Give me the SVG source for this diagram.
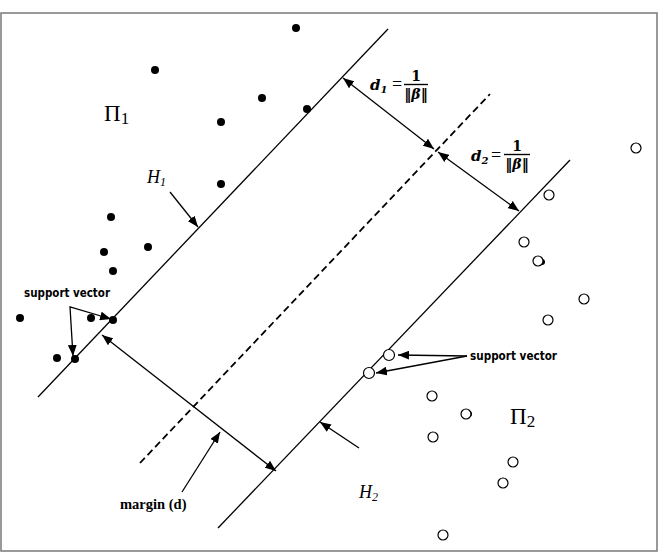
<svg xmlns="http://www.w3.org/2000/svg" width="660" height="553" viewBox="0 0 660 553">
  <style>
    .frame { fill: #fff; stroke: #808080; stroke-width: 1.6; }
    .plane { stroke: #000; stroke-width: 1.3; fill: none; }
    .mid { stroke: #000; stroke-width: 1.8; fill: none; stroke-dasharray: 7 4; }
    .arrow { stroke: #000; stroke-width: 1.3; fill: none; }
    .pos { fill: #000; }
    .neg { fill: #fff; stroke: #000; stroke-width: 1.2; }
    .math { font-family: "Liberation Serif", "DejaVu Serif", serif; fill: #000; }
    .heavy { font-family: "DejaVu Serif", "Liberation Serif", serif; fill: #000; font-weight: bold; }
    .bi { font-weight: bold; font-style: italic; }
    .b { font-weight: bold; }
    .it { font-style: italic; }
    .sv { font-family: "DejaVu Sans", "Liberation Sans", sans-serif; font-weight: bold; font-size: 11.5px; fill: #000; }
  </style>
  <defs>
    <marker id="head" viewBox="0 0 10 8" refX="10" refY="4" markerWidth="11" markerHeight="9" markerUnits="userSpaceOnUse" orient="auto-start-reverse">
      <path d="M0,0 L10,4 L0,8 Z" fill="#000"/>
    </marker>
  </defs>

  <rect class="frame" x="1" y="13" width="656" height="538"/>

  <!-- hyperplanes -->
  <g id="planes">
    <line id="H1-line" class="plane" x1="38" y1="397" x2="388" y2="29"/>
    <line id="mid-line" class="mid" x1="140" y1="463" x2="490" y2="94"/>
    <line id="H2-line" class="plane" x1="218" y1="528" x2="570" y2="160"/>
  </g>

  <!-- class 1 points -->
  <g id="class1">
    <circle class="pos" cx="296" cy="28" r="4"/>
    <circle class="pos" cx="155" cy="70" r="4"/>
    <circle class="pos" cx="262" cy="98" r="4"/>
    <circle class="pos" cx="307" cy="109" r="4"/>
    <circle class="pos" cx="221" cy="122" r="4"/>
    <circle class="pos" cx="221" cy="184" r="4"/>
    <circle class="pos" cx="111" cy="217" r="4"/>
    <circle class="pos" cx="148" cy="247" r="4"/>
    <circle class="pos" cx="104" cy="252" r="4"/>
    <circle class="pos" cx="113" cy="271" r="4"/>
    <circle class="pos" cx="20" cy="318" r="4"/>
    <circle class="pos" cx="91" cy="318" r="4"/>
    <circle class="pos" cx="57" cy="358" r="4"/>
    <circle class="pos" cx="113" cy="320" r="4"/>
    <circle class="pos" cx="75" cy="359" r="4"/>
  </g>

  <!-- class 2 points -->
  <g id="class2">
    <circle class="neg" cx="636" cy="148" r="5"/>
    <circle class="neg" cx="549" cy="195" r="5"/>
    <circle class="neg" cx="524" cy="242" r="5"/>
    <circle class="pos" cx="542" cy="262" r="3"/>
    <circle class="neg" cx="538" cy="261" r="5"/>
    <circle class="neg" cx="584" cy="299" r="5"/>
    <circle class="neg" cx="548" cy="320" r="5"/>
    <circle class="neg" cx="389" cy="355" r="5.5"/>
    <circle class="neg" cx="369" cy="373" r="5.5"/>
    <circle class="neg" cx="432" cy="396" r="5"/>
    <circle class="pos" cx="469" cy="414" r="3"/>
    <circle class="neg" cx="466" cy="414" r="5"/>
    <circle class="neg" cx="433" cy="437" r="5"/>
    <circle class="neg" cx="513" cy="462" r="5"/>
    <circle class="neg" cx="503" cy="483" r="5"/>
    <circle class="neg" cx="443" cy="535" r="5"/>
  </g>

  <!-- connectors -->
  <g id="connectors">
    <line class="arrow" x1="343" y1="78" x2="434" y2="149" marker-start="url(#head)" marker-end="url(#head)"/>
    <line class="arrow" x1="438" y1="152" x2="519" y2="211" marker-start="url(#head)" marker-end="url(#head)"/>
    <line class="arrow" x1="102" y1="335" x2="276" y2="471" marker-start="url(#head)" marker-end="url(#head)"/>
    <line class="arrow" x1="182" y1="492" x2="220" y2="432" marker-end="url(#head)"/>
    <line class="arrow" x1="170" y1="192" x2="198" y2="227" marker-end="url(#head)"/>
    <line class="arrow" x1="359" y1="448" x2="320" y2="422" marker-end="url(#head)"/>
    <polyline class="arrow" points="111,319 70,307 73,356" marker-start="url(#head)" marker-end="url(#head)"/>
    <line class="arrow" x1="467" y1="356" x2="398" y2="355" marker-end="url(#head)"/>
    <line class="arrow" x1="467" y1="356" x2="376" y2="373" marker-end="url(#head)"/>
  </g>

  <!-- labels -->
  <g id="labels">
    <text class="math" x="104" y="121" font-size="23">Π<tspan font-size="17" dy="3">1</tspan></text>
    <text class="math" x="510" y="424" font-size="23">Π<tspan font-size="17" dy="3">2</tspan></text>
    <text class="math it" x="147" y="183" font-size="18">H<tspan font-size="12" dy="3">1</tspan></text>
    <text class="math it" x="359" y="498" font-size="18">H<tspan font-size="12" dy="3">2</tspan></text>

    <g id="d1-label">
      <text class="heavy it" x="370" y="90" font-size="15">d<tspan font-size="10" dy="3">1</tspan></text>
      <text class="math" x="392" y="90" font-size="18">=</text>
      <text class="heavy" x="416" y="81" font-size="14" text-anchor="middle">1</text>
      <line x1="404" y1="84.5" x2="428" y2="84.5" stroke="#000" stroke-width="1.4"/>
      <text class="heavy" x="416" y="99" font-size="14" text-anchor="middle">‖<tspan class="it">β</tspan>‖</text>
    </g>
    <g id="d2-label">
      <text class="heavy it" x="471" y="161" font-size="15">d<tspan font-size="10" dy="3">2</tspan></text>
      <text class="math" x="491" y="161" font-size="18">=</text>
      <text class="heavy" x="517" y="151" font-size="14" text-anchor="middle">1</text>
      <line x1="504" y1="154.5" x2="530" y2="154.5" stroke="#000" stroke-width="1.4"/>
      <text class="heavy" x="517" y="169" font-size="14" text-anchor="middle">‖<tspan class="it">β</tspan>‖</text>
    </g>

    <text class="math b" x="120" y="509" font-size="14.5">margin (d)</text>
    <text class="sv" x="24" y="297" textLength="86" lengthAdjust="spacingAndGlyphs">support vector</text>
    <text class="sv" x="470" y="360" textLength="87" lengthAdjust="spacingAndGlyphs">support vector</text>
  </g>
</svg>
